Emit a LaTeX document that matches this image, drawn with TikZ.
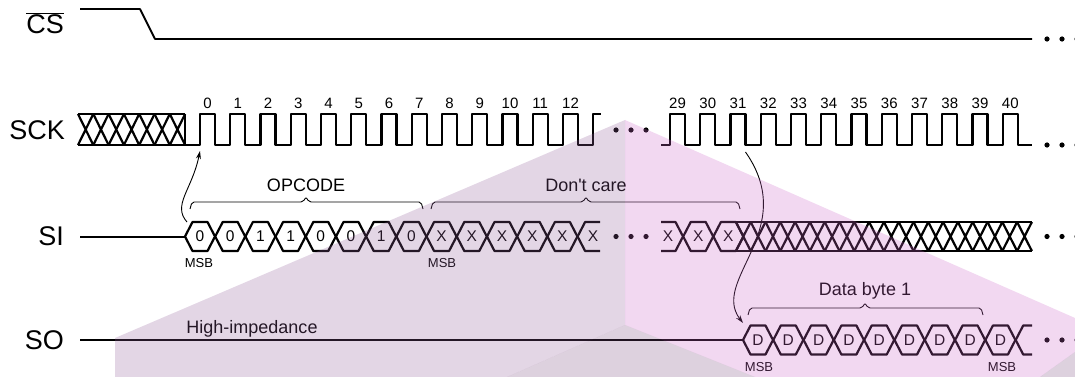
\documentclass[tikz,border=0pt]{standalone}
\usepackage{fontspec}
\setmainfont{Liberation Sans}
\usetikzlibrary{arrows.meta}

\definecolor{wmleft}{RGB}{144,92,152}
\definecolor{wmright}{RGB}{204,100,200}
\definecolor{wmgray}{RGB}{120,72,124}

\begin{document}
\begin{tikzpicture}[x=1pt,y=-1pt,
    sig/.style={line width=2.2pt,line join=bevel},
    siglabel/.style={font=\fontsize{27}{27}\selectfont,anchor=east,inner sep=0pt},
    num/.style={font=\fontsize{15}{15}\selectfont,inner sep=0pt},
    bit/.style={font=\fontsize{15.5}{15.5}\selectfont,inner sep=0pt},
    msb/.style={font=\fontsize{13}{13}\selectfont,inner sep=0pt},
    note/.style={font=\fontsize{18}{18}\selectfont,inner sep=0pt},
    bracket/.style={line width=0.9pt,rounded corners=2pt},
    link/.style={line width=0.9pt,-{Stealth[length=8pt,width=5pt]}}]
    \useasboundingbox (0,0) rectangle (1075,377);

    % chip select
    \node[siglabel] (cs) at (64,23) {$\overline{\mbox{CS}}$};
    \draw[sig,line width=1.8pt] (80,9) -- (140,9) -- (155,39) -- (1032,39);
    \foreach \x in {1047,1062,1077} \fill (\x,39) circle (2.6pt);

    % clock
    \node[siglabel] (sck) at (65,130) {SCK};
    \draw[sig] (78,114) -- (185,114) (78,145) -- (185,145) (185,114) -- (185,145);
    \foreach \i in {0,...,6}
        \draw[sig] ({78+15.3*\i},114) -- ({93.3+15.3*\i},145)
                   ({78+15.3*\i},145) -- ({93.3+15.3*\i},114);
    \draw[sig] (185,145) \foreach \k in {0,...,12} {
        -- ({200+30.25*\k},145) -- ({200+30.25*\k},114)
        -- ({215+30.25*\k},114) -- ({215+30.25*\k},145)}
        -- (593,145) -- (593,114) -- (601,114);
    \draw[sig] (661,145) \foreach \k in {0,...,11} {
        -- ({670+30.25*\k},145) -- ({670+30.25*\k},114)
        -- ({685+30.25*\k},114) -- ({685+30.25*\k},145)}
        -- (1032,145);
    \foreach \k in {0,...,12}
        \node[num] (n\k) at ({207.5+30.25*\k},103) {\k};
    \foreach \k in {29,...,40}
        \node[num] (n\k) at ({677.5+30.25*(\k-29)},103) {\k};
    \foreach \x in {616,631,646} \fill (\x,130) circle (2.6pt);
    \foreach \x in {1047,1062,1077} \fill (\x,145) circle (2.6pt);
    \coordinate (clk0) at (200,151);
    \coordinate (clk31) at (745.5,152);

    % serial in
    \node[siglabel] (si) at (64,236.5) {SI};
    \draw[sig,line width=2pt] (80,236.5) -- (185,236.5);
    \foreach \b [count=\i from 0] in {0,0,1,1,0,0,1,0,X,X,X,X,X} {
        \draw[sig] ({185+30.2*\i},236.5) -- ({192.5+30.2*\i},222) -- ({207.5+30.2*\i},222)
            -- ({215+30.2*\i},236.5) -- ({207.5+30.2*\i},251) -- ({192.5+30.2*\i},251) -- cycle;
        \node[bit] (si\i) at ({200+30.2*\i},236.5) {\b};
    }
    \draw[sig] (577.6,236.5) -- (585.1,222) -- (600,222)
               (577.6,236.5) -- (585.1,251) -- (600,251);
    \node[bit] (si13) at (593,236.5) {X};
    \foreach \x in {616,631,646} \fill (\x,236.5) circle (2.6pt);
    \draw[sig] (661,222) -- (675.5,222) -- (683,236.5) -- (675.5,251) -- (661,251);
    \node[bit] (si29) at (668,236.5) {X};
    \foreach \i in {1,2} {
        \draw[sig] ({653+30.2*\i},236.5) -- ({660.5+30.2*\i},222) -- ({675.5+30.2*\i},222)
            -- ({683+30.2*\i},236.5) -- ({675.5+30.2*\i},251) -- ({660.5+30.2*\i},251) -- cycle;
        \node[bit] (sx\i) at ({668+30.2*\i},236.5) {X};
    }
    \draw[sig] (735.9,222) -- (1032,222) (735.9,251) -- (1032,251);
    \foreach \i in {0,...,19}
        \draw[sig] ({735.9+14.8*\i},222) -- ({750.7+14.8*\i},251)
                   ({735.9+14.8*\i},251) -- ({750.7+14.8*\i},222);
    \foreach \x in {1047,1062,1077} \fill (\x,236.5) circle (2.6pt);
    \node[msb] (msb1) at (199,263) {MSB};
    \node[msb] (msb2) at (442,263) {MSB};
    \coordinate (opc) at (187,222);

    % brackets over SI
    \draw[bracket] (190,209) -- (192,202) -- (303,202) -- (306,197) -- (309,202) -- (421,202) -- (423,209);
    \node[note] (opcode) at (306,185) {OPCODE};
    \draw[bracket] (431,209) -- (433,202) -- (583,202) -- (586,197) -- (589,202) -- (738,202) -- (740,209);
    \node[note] (dontcare) at (586,185) {Don\textquotesingle t care};

    % serial out
    \node[siglabel] (so) at (64,340) {SO};
    \draw[sig,line width=2pt] (80,340) -- (743,340);
    \node[note] (hiz) at (252,329) {High-impedance};
    \foreach \i in {0,...,8} {
        \draw[sig] ({743+30.3*\i},340) -- ({750.5+30.3*\i},325.5) -- ({765.5+30.3*\i},325.5)
            -- ({773+30.3*\i},340) -- ({765.5+30.3*\i},354.5) -- ({750.5+30.3*\i},354.5) -- cycle;
        \node[bit] (d\i) at ({758+30.3*\i},340) {D};
    }
    \draw[sig] (1015.7,340) -- (1023.2,325.5) -- (1032,325.5)
               (1015.7,340) -- (1023.2,354.5) -- (1032,354.5);
    \foreach \x in {1047,1062,1077} \fill (\x,340) circle (2.6pt);
    \node[msb] (msb3) at (759,367) {MSB};
    \node[msb] (msb4) at (1002,367) {MSB};
    \draw[bracket] (748,315) -- (750,308) -- (862,308) -- (865,303) -- (868,308) -- (981,308) -- (983,315);
    \node[note] (databyte) at (865,291) {Data byte 1};
    \coordinate (dstart) at (743,323);

    % timing arrows
    \draw[link] (opc) .. controls (172,205) and (192,190) .. (clk0);
    \draw[link] (clk31) .. controls (800,230) and (710,280) .. (dstart);

    % watermark
    \fill[wmleft,fill opacity=0.25] (115,377) -- (115,338) -- (625,120) -- (625,325) -- (507,377) -- cycle;
    \fill[wmright,fill opacity=0.25] (625,120) -- (1075,318) -- (1075,352) -- (1040,377) -- (755,377) -- (625,325) -- cycle;
    \fill[wmgray,fill opacity=0.25] (625,325) -- (507,377) -- (755,377) -- cycle;
    \fill[wmgray,fill opacity=0.25] (1040,377) -- (1075,352) -- (1075,377) -- cycle;
\end{tikzpicture}
\end{document}
